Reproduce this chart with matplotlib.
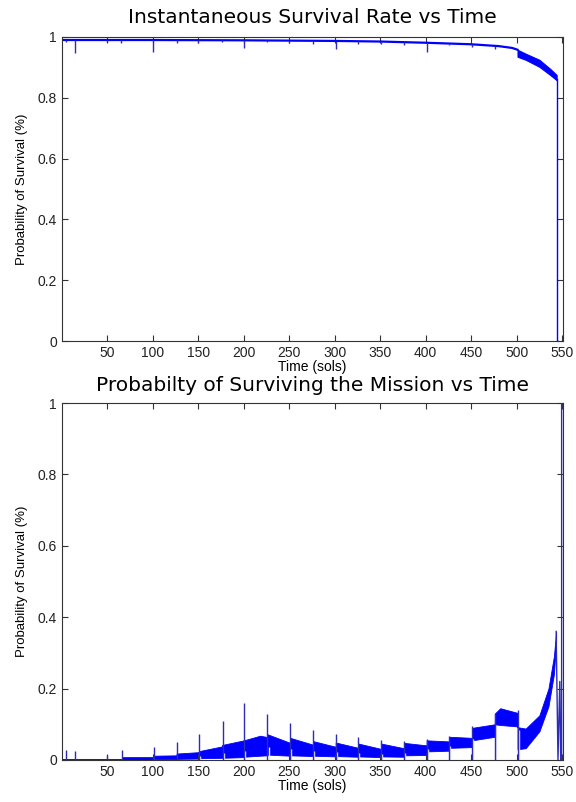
import numpy as np
import matplotlib
matplotlib.use("Agg")
import matplotlib.pyplot as plt

plt.rcParams['font.family'] = ['Liberation Sans', 'DejaVu Sans']

BLUE = '#0000ff'
SPIKE = '#2c2cb8'

# ---- top panel: instantaneous survival rate ----
rate_x = [1, 100, 200, 300, 350, 400, 450, 480, 495, 501]
rate_y = [0.990, 0.990, 0.989, 0.987, 0.985, 0.981, 0.976, 0.970, 0.964, 0.958]
# noisy band at the end of the mission
rate_band_x = [501, 510, 525, 537, 544]
rate_band_hi = [0.958, 0.945, 0.925, 0.895, 0.875]
rate_band_lo = [0.935, 0.925, 0.902, 0.875, 0.858]
# final collapse
rate_tail_x = [544, 544.5, 544.5, 546]
rate_tail_y = [0.862, 0.862, 0.0, 0.0]
# downward spikes
rate_dip_x = [4, 14, 49, 65, 100, 126, 150, 176, 200, 225, 250, 276, 301, 326, 351, 376, 401, 426, 451, 476]
rate_dip_lo = [0.985, 0.946, 0.983, 0.980, 0.952, 0.980, 0.981, 0.983, 0.963, 0.983, 0.981, 0.978, 0.960, 0.978, 0.976, 0.975, 0.952, 0.975, 0.968, 0.962]

# ---- bottom panel: probability of surviving the mission ----
miss_x = [1, 66, 66, 101, 101, 126, 126, 151, 151, 176, 176, 200, 200, 218, 226,
          226, 251, 251, 276, 276, 301, 301, 326, 326, 351, 351, 376, 376, 401,
          401, 426, 426, 451, 451, 476, 476, 482, 501, 501, 510, 525, 535, 541, 543.5]
miss_hi = [0.003, 0.003, 0.008, 0.008, 0.012, 0.013, 0.018, 0.022, 0.025, 0.038, 0.042, 0.055, 0.055, 0.068, 0.064,
           0.072, 0.048, 0.062, 0.043, 0.053, 0.037, 0.049, 0.034, 0.046, 0.031, 0.046, 0.033, 0.048, 0.041,
           0.055, 0.052, 0.065, 0.062, 0.090, 0.100, 0.130, 0.145, 0.132, 0.092, 0.088, 0.125, 0.200, 0.290, 0.360]
miss_lo = [0.000, 0.000, 0.001, 0.001, 0.002, 0.002, 0.003, 0.004, 0.005, 0.006, 0.006, 0.008, 0.009, 0.012, 0.013,
           0.015, 0.012, 0.013, 0.011, 0.012, 0.010, 0.011, 0.009, 0.010, 0.008, 0.010, 0.009, 0.013, 0.014,
           0.024, 0.026, 0.034, 0.036, 0.055, 0.065, 0.100, 0.098, 0.094, 0.030, 0.033, 0.080, 0.150, 0.240, 0.330]
miss_spike_x = [4, 14, 49, 66, 101, 126, 151, 177, 200, 226, 251, 276, 301, 326, 351, 376, 401, 426, 451, 476, 501]
miss_spike_hi = [0.028, 0.025, 0.013, 0.028, 0.037, 0.051, 0.073, 0.109, 0.160, 0.128, 0.103, 0.083, 0.073, 0.063,
                 0.055, 0.053, 0.058, 0.068, 0.095, 0.128, 0.140]
# white notches left in the band just after each spike
miss_gap_hi = [0.0, 0.0, 0.0, 0.0, 0.0, 0.0, 0.012, 0.020, 0.025, 0.035, 0.030, 0.025, 0.022, 0.020,
               0.018, 0.020, 0.030, 0.040, 0.060, 0.095, 0.085]
miss_tail_x = [543.5, 545.5, 547.5, 548.5, 549.5, 549.5]
miss_tail_y = [0.36, 0.0, 0.22, 0.0, 0.0, 1.0]

xticks = [50, 100, 150, 200, 250, 300, 350, 400, 450, 500, 550]
yticks = [0, 0.2, 0.4, 0.6, 0.8, 1]
yticklabels = ['0', '0.2', '0.4', '0.6', '0.8', '1']


def style_axes(ax, title, title_pad):
    ax.set_xlim(0, 551)
    ax.set_ylim(0, 1)
    ax.set_xticks(xticks)
    ax.set_yticks(yticks)
    ax.set_yticklabels(yticklabels)
    ax.tick_params(direction='in', top=True, right=True, length=4, width=0.8,
                   labelsize=10, colors='#333333', labelcolor='#222222', pad=3.5)
    for s in ax.spines.values():
        s.set_color('#333333')
        s.set_linewidth(0.8)
    ax.set_title(title, fontsize=14.5, pad=title_pad, family=['DejaVu Sans'])
    ax.set_xlabel('Time (sols)', fontsize=10, labelpad=0)
    ax.set_ylabel('Probability of Survival (%)', fontsize=9.5, labelpad=7)


fig = plt.figure(figsize=(5.76, 8.02), dpi=100)
ax1 = fig.add_axes([0.1076, 0.5748, 0.8698, 0.3791])
ax2 = fig.add_axes([0.1076, 0.0524, 0.8698, 0.4451])

# top panel
ax1.plot(rate_x, rate_y, color=BLUE, lw=1.6)
ax1.fill_between(rate_band_x, rate_band_lo, rate_band_hi, color=BLUE, lw=0.8)
ax1.plot(rate_tail_x, rate_tail_y, color=BLUE, lw=1.0)
dip_top = np.interp(rate_dip_x, rate_x, rate_y)
ax1.vlines(rate_dip_x, rate_dip_lo, dip_top, color=SPIKE, lw=1.0)
style_axes(ax1, 'Instantaneous Survival Rate vs Time', 10)

# bottom panel
ax2.fill_between(miss_x, miss_lo, miss_hi, color=BLUE, lw=0.6)
ax2.vlines(np.array(miss_spike_x) + 1.2, 0, miss_gap_hi, color='#e8e8ff', lw=1.0)
ax2.vlines(miss_spike_x, 0, miss_spike_hi, color=SPIKE, lw=1.0)
ax2.plot(miss_tail_x, miss_tail_y, color=SPIKE, lw=1.0)
style_axes(ax2, 'Probabilty of Surviving the Mission vs Time', 8.5)

fig.savefig('out.png', dpi=100)
